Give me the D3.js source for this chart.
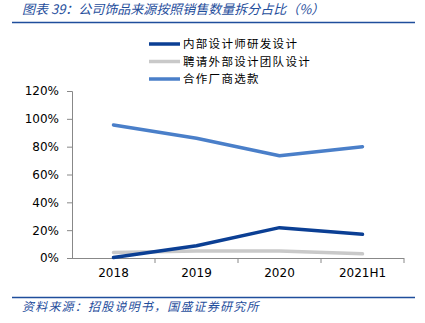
<!DOCTYPE html>
<html><head><meta charset="utf-8">
<script src="https://cdn.jsdelivr.net/npm/d3@7"></script>
<style>body{margin:0;background:#fff}svg{display:block}</style>
</head><body><svg id="c" width="425" height="323"></svg>
<script>
const categories = ["2018","2019","2020","2021H1"];
const seriesNames = ["内部设计师研发设计","聘请外部设计团队设计","合作厂商选款"];
const internalDesign = [0.3, 8.8, 21.8, 17.0];
const externalTeam = [4.0, 5.0, 5.0, 3.0];
const partnerSelect = [95.5, 86.0, 73.5, 80.0];
const yTicks = [0,20,40,60,80,100,120];
const colors = ["#0b3f94","#c9c9c9","#4a7fc9"];

const svg = d3.select("#c");
const font = "'Noto Sans CJK SC', sans-serif";
svg.append("text").attr("x",22).attr("y",14).attr("fill","#1f4e9c")
  .attr("font-family",font).attr("font-size",13).attr("font-style","italic")
  .text("图表 39：公司饰品来源按照销售数量拆分占比（%）");
svg.append("line").attr("x1",12).attr("x2",415).attr("y1",22.5).attr("y2",22.5).attr("stroke","#1f4e9c").attr("stroke-width",1.5);
svg.append("line").attr("x1",12).attr("x2",415).attr("y1",297.5).attr("y2",297.5).attr("stroke","#1f4e9c").attr("stroke-width",1.5);
svg.append("text").attr("x",22).attr("y",311).attr("fill","#1f4e9c")
  .attr("font-family",font).attr("font-size",12).attr("font-style","italic").attr("letter-spacing",1.2)
  .text("资料来源：招股说明书，国盛证券研究所");

const x = d3.scaleBand().domain(categories).range([72,404]);
const y = d3.scaleLinear().domain([0,120]).range([258,91]);

// y axis
const ya = svg.append("g").attr("transform","translate(72,0)")
  .call(d3.axisLeft(y).tickValues(yTicks).tickFormat(d=>d+"%").tickSize(5).tickPadding(8));
ya.select(".domain").attr("stroke","#888").attr("d","M-5,91.5H0.5V258.5");
ya.selectAll(".tick line").attr("stroke","#888").attr("x1",-5).attr("x2",0);
ya.selectAll("text").attr("font-family","'DejaVu Sans', sans-serif").attr("font-size",12).attr("fill","#000");

// x axis
const xa = svg.append("g").attr("transform","translate(0,258)")
  .call(d3.axisBottom(x).tickSize(0).tickPadding(10));
xa.select(".domain").attr("stroke","#888").attr("d","M72,0.5H404");
xa.selectAll("text").attr("font-family","'DejaVu Sans', sans-serif").attr("font-size",12).attr("fill","#000");
svg.append("g").selectAll("line").data(categories.slice(1).concat(["end"])).join("line")
  .attr("x1",(d,i)=> i<3 ? x(categories[i+1]) : x(categories[3])+x.bandwidth())
  .attr("x2",(d,i)=> i<3 ? x(categories[i+1]) : x(categories[3])+x.bandwidth())
  .attr("y1",258).attr("y2",263).attr("stroke","#888");

const series = [internalDesign, externalTeam, partnerSelect];
const line = d3.line().x((d,i)=>x(categories[i])+x.bandwidth()/2).y(d=>y(d)).curve(d3.curveLinear);
[1,0,2].forEach(k=>{
  svg.append("path").attr("d",line(series[k])).attr("fill","none")
    .attr("stroke",colors[k]).attr("stroke-width",3.5).attr("stroke-linecap","round").attr("stroke-linejoin","round");
});

// legend
const lg = svg.append("g");
seriesNames.forEach((n,i)=>{
  const yy = [44,61.5,79][i];
  lg.append("line").attr("x1",149).attr("x2",180).attr("y1",yy).attr("y2",yy).attr("stroke",colors[i]).attr("stroke-width",3.5);
  lg.append("text").attr("x",183).attr("y",yy+4.2).attr("font-family",font).attr("font-size",11.5).attr("letter-spacing",1.3).attr("fill","#000").text(n);
});
</script></body></html>
